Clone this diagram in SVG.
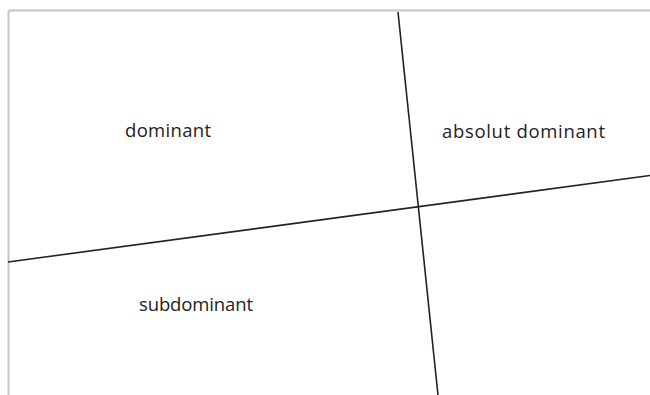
<svg xmlns="http://www.w3.org/2000/svg" width="650" height="395" viewBox="0 0 650 395">
<style>
.frame{stroke:#c4c4c4;stroke-width:2;fill:none}
.axis{stroke:#222;stroke-width:1.6;fill:none}
.lbl{font-family:"Open Sans","Liberation Sans",sans-serif;font-size:18.5px;fill:#222}
</style>
<rect width="650" height="395" fill="#fff"/>
<g id="frame">
<line class="frame" x1="8.5" y1="10.5" x2="650" y2="10.5"/>
<line class="frame" x1="8.5" y1="10.5" x2="8.5" y2="395"/>
</g>
<g id="connectors">
<line class="axis" x1="398" y1="12" x2="438" y2="395"/>
<line class="axis" x1="8" y1="262" x2="650" y2="175.5"/>
</g>
<g id="dominant"><text class="lbl" x="125" y="137" textLength="86" lengthAdjust="spacing">dominant</text></g>
<g id="absolut-dominant"><text class="lbl" x="442" y="138" textLength="163" lengthAdjust="spacing">absolut dominant</text></g>
<g id="subdominant"><text class="lbl" x="139" y="311" textLength="114" lengthAdjust="spacing">subdominant</text></g>
</svg>
